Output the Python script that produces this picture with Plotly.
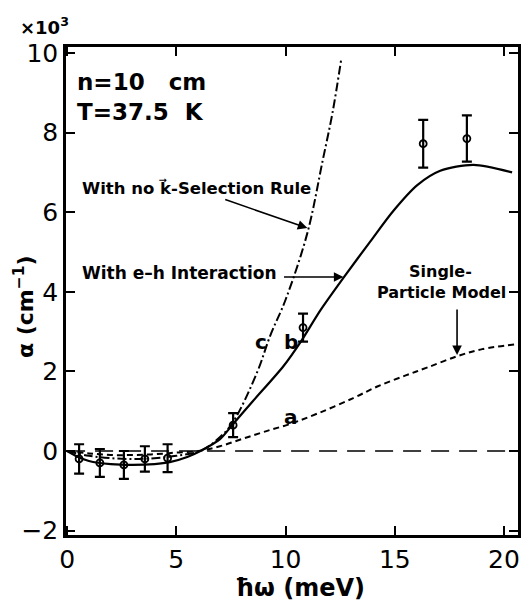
import plotly.graph_objects as go

# Experimental points
exp_x = [0.55, 1.5, 2.6, 3.56, 4.6, 7.6, 10.8, 16.3, 18.3]
exp_y = [-0.2, -0.3, -0.35, -0.2, -0.18, 0.65, 3.1, 7.72, 7.85]
exp_err = [0.37, 0.35, 0.35, 0.32, 0.35, 0.3, 0.35, 0.6, 0.58]

# Curve a: single-particle model
a_x = [0, 1, 2, 3, 4, 5, 6.0, 7, 8, 9, 10.2, 11.5, 13.1, 14.2, 15.5, 16.5, 17.85, 19, 20.5]
a_y = [0, -0.06, -0.1, -0.1, -0.08, -0.04, 0, 0.12, 0.3, 0.48, 0.68, 0.95, 1.33, 1.62, 1.9, 2.1, 2.38, 2.56, 2.68]

# Curve b: with e-h interaction
b_x = [0, 0.5, 1, 2, 3, 4, 4.7, 5.5, 6.1, 7, 7.6, 8.5, 9.9, 10.7, 11.6, 12.74, 13.9, 14.93, 16.03, 17.08, 18.6, 20.37]
b_y = [0, -0.15, -0.25, -0.33, -0.35, -0.33, -0.28, -0.15, 0, 0.3, 0.68, 1.25, 2.13, 2.75, 3.54, 4.42, 5.28, 6.03, 6.68, 7.04, 7.19, 7.0]

# Curve c: no k-selection rule
c_x = [0, 1, 2, 3, 4, 5, 6.1, 7, 7.6, 8.7, 9.3, 10, 11, 11.7, 12.15, 12.55]
c_y = [0, -0.12, -0.18, -0.2, -0.18, -0.12, 0, 0.35, 0.73, 1.98, 2.9, 3.8, 5.48, 7.3, 8.5, 9.85]

zero_x = [0, 20.6]
zero_y = [0, 0]

x_ticks = [0, 5, 10, 15, 20]
y_ticks = [-2, 0, 2, 4, 6, 8, 10]

FONT = "DejaVu Sans"
black = "black"

fig = go.Figure()
fig.add_trace(go.Scatter(x=zero_x, y=zero_y, mode="lines",
                         line=dict(color=black, width=1.5, dash="18px,10px"), showlegend=False))
fig.add_trace(go.Scatter(x=a_x, y=a_y, mode="lines", line_shape="spline",
                         line=dict(color=black, width=2, dash="6px,4px"), showlegend=False))
fig.add_trace(go.Scatter(x=c_x, y=c_y, mode="lines", line_shape="spline",
                         line=dict(color=black, width=2, dash="9px,3px,2px,3px"), showlegend=False))
fig.add_trace(go.Scatter(x=b_x, y=b_y, mode="lines", line_shape="spline", line_smoothing=0.8,
                         line=dict(color=black, width=2.2), showlegend=False))
fig.add_trace(go.Scatter(x=exp_x, y=exp_y, mode="markers",
                         marker=dict(symbol="circle-open", size=7, color=black, line=dict(width=1.8)),
                         error_y=dict(type="data", array=exp_err, visible=True, color=black,
                                      thickness=2.2, width=5),
                         showlegend=False))

ann = []
def txt(x, y, t, size=17, xanchor="left", bold=True):
    ann.append(dict(x=x, y=y, xref="x", yref="y", text=(f"<b>{t}</b>" if bold else t),
                    showarrow=False, xanchor=xanchor, yanchor="middle",
                    font=dict(family=FONT, size=size, color=black)))

def arrow(x0, y0, x1, y1):
    ann.append(dict(x=x1, y=y1, ax=x0, ay=y0, xref="x", yref="y", axref="x", ayref="y",
                    text="", showarrow=True, arrowhead=2, arrowsize=1.2, arrowwidth=1.6,
                    arrowcolor=black))

txt(0.35, 9.27, "n=10   cm", size=23)
txt(0.35, 8.52, "T=37.5  K", size=23)
txt(0.6, 6.61, "With no k\u20d7-Selection Rule", size=16.5)
txt(0.6, 4.47, "With e\u2013h Interaction", size=17)
txt(8.86, 2.74, "c", size=20, xanchor="center")
txt(10.23, 2.74, "b", size=20, xanchor="center")
txt(10.23, 0.85, "a", size=20, xanchor="center")
txt(17.08, 4.5, "Single-", size=16, xanchor="center")
txt(17.12, 3.97, "Particle Model", size=16, xanchor="center")
arrow(7.17, 6.33, 11.0, 5.6)
arrow(9.86, 4.37, 12.65, 4.37)
arrow(17.85, 3.59, 17.85, 2.41)

# "x10^3" multiplier and axis titles (pixel-placed as paper annotations)
W, H = 526, 602
L, R, T, B = 66, 8, 47, 67
pw, ph = W - L - R, H - T - B
def px(xp):
    return (xp - L) / pw
def py(yp):
    return (H - B - yp) / ph

ann.append(dict(x=px(44), y=py(26), xref="paper", yref="paper", text="<b>\u00d710<sup>3</sup></b>",
                showarrow=False, xanchor="center", yanchor="middle",
                font=dict(family=FONT, size=18, color=black)))
ann.append(dict(x=px(300), y=py(588), xref="paper", yref="paper", text="<b>\u0127\u03c9 (meV)</b>",
                showarrow=False, xanchor="center", yanchor="middle",
                font=dict(family=FONT, size=24, color=black)))
ann.append(dict(x=px(24), y=py(307), xref="paper", yref="paper",
                text="<b>\u03b1 (cm<sup>\u22121</sup>)</b>", textangle=-90,
                showarrow=False, xanchor="center", yanchor="middle",
                font=dict(family=FONT, size=22, color=black)))

axis_common = dict(showline=True, linewidth=2.5, linecolor=black, mirror="ticks",
                   ticks="inside", ticklen=9, tickwidth=2, tickcolor=black,
                   showgrid=False, zeroline=False, automargin=False,
                   tickfont=dict(family=FONT, size=25, color=black))

fig.update_layout(
    width=W, height=H,
    margin=dict(l=L, r=R, t=T, b=B),
    paper_bgcolor="white", plot_bgcolor="white",
    annotations=ann,
    xaxis=dict(range=[-0.05, 20.64], tickvals=x_ticks, **axis_common),
    yaxis=dict(range=[-2.11, 10.15], tickvals=y_ticks, ticklabelstandoff=0, **axis_common),
)

fig.write_html("out.html")
